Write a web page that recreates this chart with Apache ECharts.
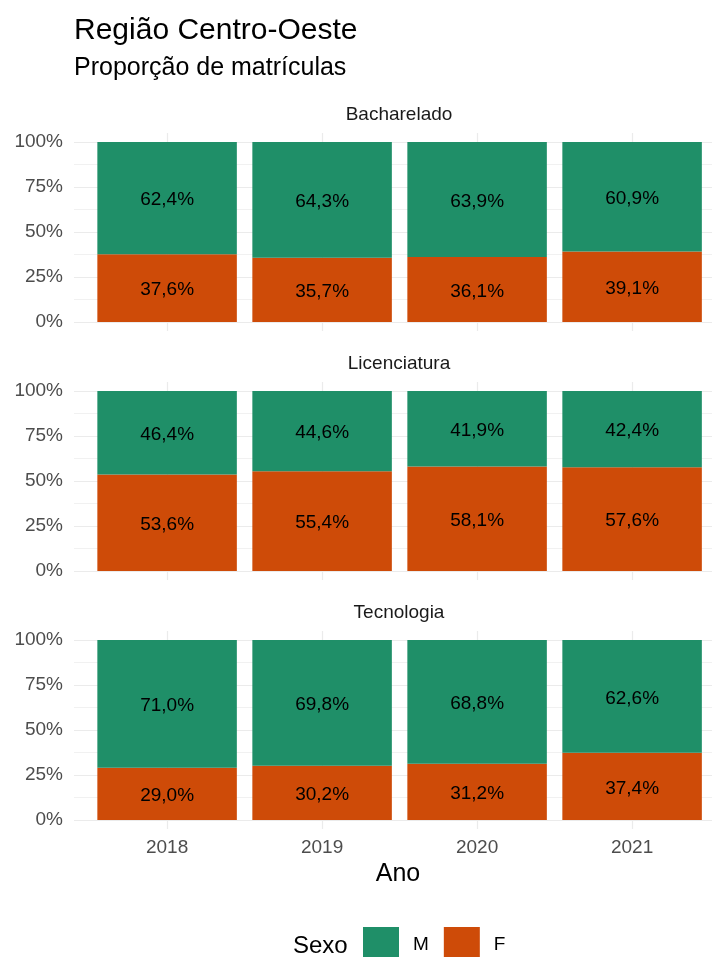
<!DOCTYPE html>
<html>
<head>
<meta charset="utf-8">
<script src="https://cdn.jsdelivr.net/npm/echarts@6/dist/echarts.min.js"></script>
<style>
  html, body { margin: 0; padding: 0; background: #fff; }
  #main { width: 712px; height: 957px; }
</style>
</head>
<body>
<div id="main"></div>
<script>
// dados
const anos = ["2018", "2019", "2020", "2021"];
const cursos = ["Bacharelado", "Licenciatura", "Tecnologia"];
const bachF = [37.6, 35.7, 36.1, 39.1];
const bachM = [62.4, 64.3, 63.9, 60.9];
const licF = [53.6, 55.4, 58.1, 57.6];
const licM = [46.4, 44.6, 41.9, 42.4];
const tecF = [29.0, 30.2, 31.2, 37.4];
const tecM = [71.0, 69.8, 68.8, 62.6];
const yTicks = [0, 25, 50, 75, 100];

const valoresF = [bachF, licF, tecF];
const valoresM = [bachM, licM, tecM];

const corM = "#1F8F68";
const corF = "#CE4B08";
const fonte = "'Liberation Sans', Arial, sans-serif";
const grade = "#EBEBEB";

const tops = [142, 391, 640];
const altura = 180;

const chart = echarts.init(document.getElementById("main"));

const grids = [];
const xAxes = [];
const yAxes = [];
const series = [];
const graphics = [];

const fmt = (v) => v.toFixed(1).replace(".", ",") + "%";

tops.forEach((top, i) => {
  // grade de fundo (linhas horizontais ate a borda)
  grids.push({ left: 74, right: 0, top: top, height: altura, containLabel: false });
  // grade das barras
  grids.push({ left: 89.6, right: 2.4, top: top, height: altura, containLabel: false });

  xAxes.push({ type: "value", gridIndex: 2 * i, min: 0, max: 1, show: false });
  xAxes.push({
    type: "category",
    gridIndex: 2 * i + 1,
    data: anos,
    boundaryGap: true,
    axisLine: { show: false },
    axisTick: {
      show: true,
      inside: true,
      alignWithLabel: true,
      length: altura + 9,
      lineStyle: { color: grade, width: 1.2 },
    },
    axisLabel: {
      show: i === 2,
      color: "#4D4D4D",
      fontSize: 19,
      fontFamily: fonte,
      margin: 18,
    },
    splitLine: { show: false },
  });
  xAxes.push({
    type: "category",
    gridIndex: 2 * i + 1,
    data: anos,
    boundaryGap: true,
    position: "bottom",
    axisLine: { show: false },
    axisTick: {
      show: true,
      inside: false,
      alignWithLabel: true,
      length: 9,
      lineStyle: { color: grade, width: 1.2 },
    },
    axisLabel: { show: false },
    splitLine: { show: false },
  });

  yAxes.push({
    type: "value",
    gridIndex: 2 * i,
    min: yTicks[0],
    max: yTicks[yTicks.length - 1],
    interval: 25,
    axisLine: { show: false },
    axisTick: { show: false },
    axisLabel: {
      formatter: "{value}%",
      color: "#4D4D4D",
      fontSize: 19,
      fontFamily: fonte,
      margin: 11,
    },
    splitLine: { show: true, lineStyle: { color: grade, width: 1.2 } },
    minorTick: { show: false, splitNumber: 2 },
    minorSplitLine: { show: true, lineStyle: { color: grade, width: 0.7 } },
  });
  yAxes.push({ type: "value", gridIndex: 2 * i + 1, min: 0, max: 100, show: false });

  const rotulo = {
    show: true,
    position: "inside",
    color: "#000",
    fontSize: 19,
    fontFamily: fonte,
    offset: [0, 2],
    formatter: (p) => fmt(p.value),
  };

  series.push({
    name: "F",
    type: "bar",
    stack: "s" + i,
    xAxisIndex: 3 * i + 1,
    yAxisIndex: 2 * i + 1,
    barWidth: "90%",
    itemStyle: { color: corF },
    label: rotulo,
    data: valoresF[i],
  });
  series.push({
    name: "M",
    type: "bar",
    stack: "s" + i,
    xAxisIndex: 3 * i + 1,
    yAxisIndex: 2 * i + 1,
    barWidth: "90%",
    itemStyle: { color: corM },
    label: rotulo,
    data: valoresM[i],
  });

  // titulo da faceta
  graphics.push({
    type: "text",
    x: 399,
    y: top - 27,
    style: {
      text: cursos[i],
      fill: "#1A1A1A",
      font: "19px " + fonte,
      textAlign: "center",
      textVerticalAlign: "middle",
    },
  });
});

graphics.push(
  {
    type: "text",
    x: 74,
    y: 31,
    style: { text: "Região Centro-Oeste", fill: "#000", font: "30px " + fonte, textAlign: "left", textVerticalAlign: "middle" },
  },
  {
    type: "text",
    x: 74,
    y: 68,
    style: { text: "Proporção de matrículas", fill: "#000", font: "25px " + fonte, textAlign: "left", textVerticalAlign: "middle" },
  },
  {
    type: "text",
    x: 398,
    y: 874,
    style: { text: "Ano", fill: "#000", font: "25px " + fonte, textAlign: "center", textVerticalAlign: "middle" },
  },
  {
    type: "text",
    x: 293,
    y: 946,
    style: { text: "Sexo", fill: "#000", font: "24px " + fonte, textAlign: "left", textVerticalAlign: "middle" },
  }
);

chart.setOption({
  animation: false,
  grid: grids,
  xAxis: xAxes,
  yAxis: yAxes,
  series: series,
  legend: {
    data: ["M", "F"],
    left: 363,
    top: 927,
    padding: 0,
    icon: "rect",
    itemWidth: 36,
    itemHeight: 36,
    itemGap: 15,
    textStyle: { color: "#000", fontSize: 19, fontFamily: fonte, padding: [0, 0, 0, 9] },
  },
  graphic: graphics,
});
</script>
</body>
</html>
